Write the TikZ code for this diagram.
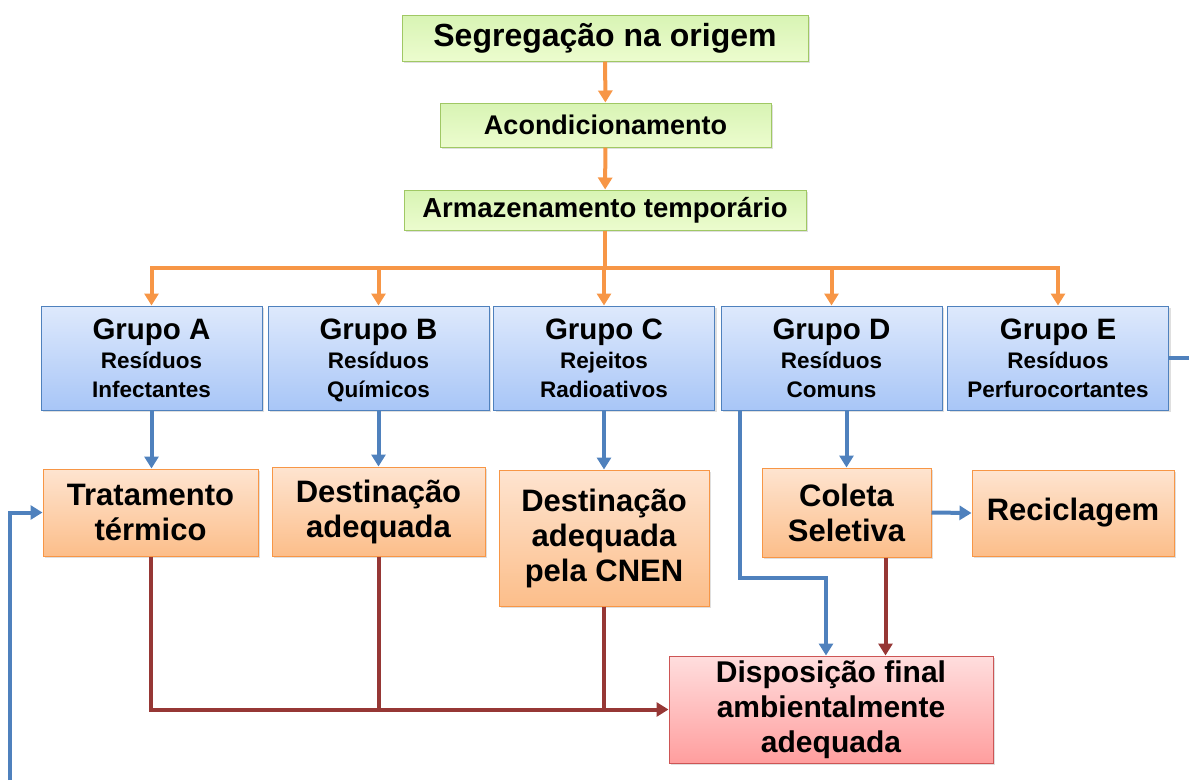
\documentclass[tikz,border=0pt]{standalone}
\usepackage{fontspec}
\setmainfont{Liberation Sans}
\usetikzlibrary{arrows.meta,shadows}

\definecolor{greenline}{RGB}{160,200,100}
\definecolor{greentop}{RGB}{216,244,180}
\definecolor{greenbot}{RGB}{236,252,206}
\definecolor{blueline}{RGB}{79,129,189}
\definecolor{bluetop}{RGB}{222,233,252}
\definecolor{bluebot}{RGB}{168,198,247}
\definecolor{orangeline}{RGB}{247,150,70}
\definecolor{orangetop}{RGB}{254,228,208}
\definecolor{orangebot}{RGB}{252,190,138}
\definecolor{pinkline}{RGB}{205,85,85}
\definecolor{pinktop}{RGB}{255,222,222}
\definecolor{pinkbot}{RGB}{255,158,158}
\definecolor{darkred}{RGB}{150,55,53}

\tikzset{
  stagebox/.style={draw, line width=1pt, inner sep=0pt, align=center,
    drop shadow={opacity=0.25,shadow xshift=2pt,shadow yshift=-2pt}},
  greenbox/.style={stagebox, draw=greenline, top color=greentop, bottom color=greenbot},
  groupbox/.style={stagebox, draw=blueline, top color=bluetop, bottom color=bluebot,
    minimum width=221, minimum height=104, text depth=0pt, font=\bfseries\fontsize{22.5}{29}\selectfont},
  destbox/.style={stagebox, draw=orangeline, top color=orangetop, bottom color=orangebot,
    font=\bfseries\fontsize{31}{35}\selectfont},
  finalbox/.style={stagebox, draw=pinkline, top color=pinktop, bottom color=pinkbot,
    font=\bfseries\fontsize{30}{35}\selectfont},
  orangearrow/.style={draw=orangeline, line width=4pt, -{Triangle[length=12pt,width=14pt]}},
  bluearrow/.style={draw=blueline, line width=4pt, -{Triangle[length=12pt,width=14pt]}},
  blueline/.style={draw=blueline, line width=4pt},
  redarrow/.style={draw=darkred, line width=4pt, -{Triangle[length=12pt,width=14pt]}},
  redline/.style={draw=darkred, line width=4pt},
}

\begin{document}
\begin{tikzpicture}[x=1pt,y=-1pt]
    \useasboundingbox (0,0) rectangle (1189,780);

    % etapas iniciais
    \node[greenbox, minimum width=406, minimum height=46, font=\bfseries\fontsize{32}{36}\selectfont] (seg) at (605,38) {Segregação na origem};
    \node[greenbox, minimum width=331, minimum height=44, font=\bfseries\fontsize{27}{30}\selectfont] (acond) at (605.5,125) {Acondicionamento};
    \node[greenbox, minimum width=402, minimum height=40, font=\bfseries\fontsize{27.5}{30}\selectfont] (arm) at (605,210) {Armazenamento temporário};

    % grupos
    \node[groupbox] (ga) at (151.5,358) {{\fontsize{29.5}{29}\selectfont Grupo A}\\Resíduos\\Infectantes};
    \node[groupbox] (gb) at (378.5,358) {{\fontsize{29.5}{29}\selectfont Grupo B}\\Resíduos\\Químicos};
    \node[groupbox] (gc) at (604,358) {{\fontsize{29.5}{29}\selectfont Grupo C}\\Rejeitos\\Radioativos};
    \node[groupbox] (gd) at (831.5,358) {{\fontsize{29.5}{29}\selectfont Grupo D}\\Resíduos\\Comuns};
    \node[groupbox] (ge) at (1058,358) {{\fontsize{29.5}{29}\selectfont Grupo E}\\Resíduos\\Perfurocortantes};

    % destinos
    \node[destbox, minimum width=215, minimum height=87] (trat) at (150.5,512.5) {Tratamento\\térmico};
    \node[destbox, minimum width=213, minimum height=89] (dest) at (378.5,511.5) {Destinação\\adequada};
    \node[destbox, minimum width=210, minimum height=136] (cnen) at (604,538) {Destinação\\adequada\\pela CNEN};
    \node[destbox, minimum width=169, minimum height=89] (coleta) at (846.5,512.5) {Coleta\\Seletiva};
    \node[destbox, minimum width=202, minimum height=86] (recic) at (1073,513) {Reciclagem};
    \node[finalbox, minimum width=324, minimum height=107] (disp) at (831,709.5) {Disposição final\\ambientalmente\\adequada};

    % setas laranja
    \draw[orangearrow] (seg) -- (acond);
    \draw[orangearrow] (acond) -- (arm);
    \coordinate (bus) at (605,268);
    \foreach \g in {ga,gb,gc,gd,ge}
        \draw[orangearrow] (arm.south) -- (bus) -| (\g.north);

    % setas azuis
    \foreach \g/\d in {ga/trat,gb/dest,gc/cnen}
        \draw[bluearrow] (\g.south) -- (\g.south |- \d.north);
    \draw[bluearrow] (gd.south -| coleta.north) -- (coleta.north);
    \draw[bluearrow] (coleta.east) -- (recic.west);
    \draw[bluearrow] ([xshift=19pt]gd.south west) -- ++(0,167) -| ([xshift=-5pt]disp.north);
    \draw[blueline] (ge.east) -- (1189,358);
    \draw[bluearrow] (10,780) |- (trat.west);

    % setas vermelhas
    \draw[redarrow] (trat.south) |- (disp.west);
    \draw[redline] (dest.south) -- (dest.south |- disp.west);
    \draw[redline] (cnen.south) -- (cnen.south |- disp.west);
    \draw[redarrow] ([xshift=39pt]coleta.south) -- ([xshift=39pt]coleta.south |- disp.north);
\end{tikzpicture}
\end{document}
